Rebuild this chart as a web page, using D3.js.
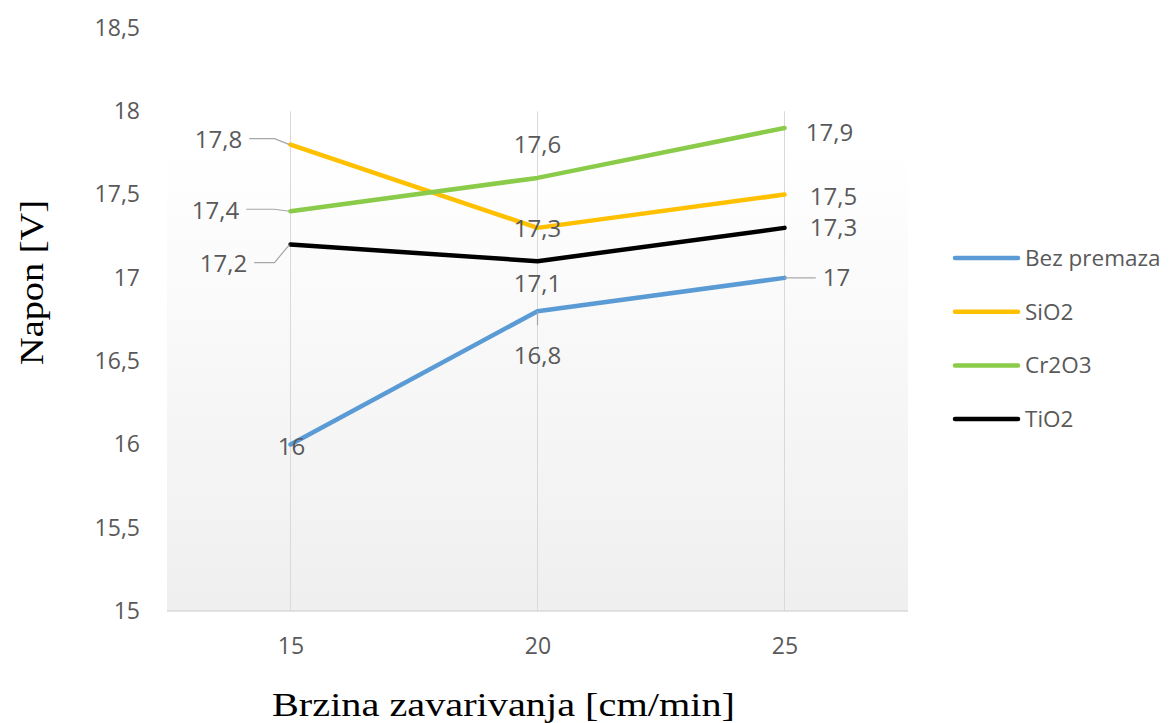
<!DOCTYPE html>
<html>
<head>
<meta charset="utf-8">
<script src="https://cdn.jsdelivr.net/npm/d3@7"></script>
<style>
  body { margin: 0; background: #fff; }
  svg { display: block; }
</style>
</head>
<body>
<script>
// Chart data
var speeds = [15, 20, 25];
var seriesNames = ["Bez premaza", "SiO2", "Cr2O3", "TiO2"];
var bezPremaza = [16, 16.8, 17];
var sio2 = [17.8, 17.3, 17.5];
var cr2o3 = [17.4, 17.6, 17.9];
var tio2 = [17.2, 17.1, 17.3];
var yTicks = [15, 15.5, 16, 16.5, 17, 17.5, 18, 18.5];
var colors = ["#5b9bd5", "#ffc000", "#8bcb4a", "#000000"];

var allValues = [bezPremaza, sio2, cr2o3, tio2];

var width = 1174, height = 723;
var svg = d3.select("body").append("svg")
    .attr("width", width)
    .attr("height", height);

var plotLeft = 167, plotRight = 908, plotTop = 148, plotBottom = 611;
var sans = "'Open Sans', sans-serif";
var serif = "'Liberation Serif', 'Times New Roman', serif";

var x = d3.scalePoint()
    .domain(speeds)
    .range([plotLeft, plotRight])
    .padding(0.5);

var y = d3.scaleLinear()
    .domain([15, 18.5])
    .range([plotBottom, 28]);

var fmt = function(v) { return String(v).replace(".", ","); };

// plot area gradient
var defs = svg.append("defs");
var grad = defs.append("linearGradient")
    .attr("id", "bg").attr("x1", 0).attr("y1", 0).attr("x2", 0).attr("y2", 1);
grad.append("stop").attr("offset", "0%").attr("stop-color", "#ffffff");
grad.append("stop").attr("offset", "100%").attr("stop-color", "#efefef");

svg.append("rect")
    .attr("x", plotLeft).attr("y", plotTop)
    .attr("width", plotRight - plotLeft).attr("height", plotBottom - plotTop)
    .attr("fill", "url(#bg)");

// vertical gridlines at categories
svg.append("g").selectAll("line")
    .data(speeds)
    .enter().append("line")
    .attr("x1", d => x(d)).attr("x2", d => x(d))
    .attr("y1", y(18)).attr("y2", plotBottom)
    .attr("stroke", "#d9d9d9").attr("stroke-width", 1);

// bottom axis line
svg.append("line")
    .attr("x1", plotLeft).attr("x2", plotRight)
    .attr("y1", plotBottom).attr("y2", plotBottom)
    .attr("stroke", "#d9d9d9").attr("stroke-width", 1.5);

// y axis tick labels
var yAxis = d3.axisLeft(y).tickValues(yTicks).tickFormat(fmt).tickSize(0).tickPadding(0);
var yg = svg.append("g").attr("transform", "translate(140,0)").call(yAxis);
yg.select(".domain").remove();
yg.selectAll("text")
    .attr("fill", "#595959")
    .style("font-family", sans)
    .style("font-size", "23px");

// x axis tick labels
var xAxis = d3.axisBottom(x).tickSize(0).tickPadding(0);
var xg = svg.append("g").attr("transform", "translate(0," + (plotBottom + 27) + ")").call(xAxis);
xg.select(".domain").remove();
xg.selectAll("text")
    .attr("fill", "#595959")
    .style("font-family", sans)
    .style("font-size", "23px");

// axis titles
svg.append("text")
    .attr("x", 272).attr("y", 716)
    .attr("textLength", 463)
    .attr("lengthAdjust", "spacingAndGlyphs")
    .style("font-family", serif)
    .style("font-size", "34px")
    .attr("fill", "#000")
    .text("Brzina zavarivanja [cm/min]");

svg.append("text")
    .attr("transform", "translate(43,365) rotate(-90)")
    .attr("textLength", 165)
    .attr("lengthAdjust", "spacingAndGlyphs")
    .style("font-family", serif)
    .style("font-size", "34px")
    .attr("fill", "#000")
    .text("Napon [V]");

// lines
var line = d3.line()
    .x((d, i) => x(speeds[i]))
    .y(d => y(d));

svg.append("g").selectAll("path")
    .data(allValues)
    .enter().append("path")
    .attr("d", d => line(d))
    .attr("fill", "none")
    .attr("stroke", (d, i) => colors[i])
    .attr("stroke-width", 4.5)
    .attr("stroke-linejoin", "round")
    .attr("stroke-linecap", "round");

// data labels: [series, category, dx, dy, leader]
var labelPlace = [
    [0, 0, 1, 2, null],
    [0, 1, 0, 44, "v"],
    [0, 2, 52, 0, "h"],
    [1, 0, -72, -5, "l"],
    [1, 1, 0, 1, null],
    [1, 2, 49, 2, null],
    [2, 0, -75, -1, "l"],
    [2, 1, 0, -33, null],
    [2, 2, 45, 5, null],
    [3, 0, -67, 19, "l"],
    [3, 1, 0, 22, null],
    [3, 2, 49, 0, null]
];

var leaderG = svg.append("g");
var labelG = svg.append("g");
labelPlace.forEach(function(p) {
    var s = p[0], c = p[1];
    var v = allValues[s][c];
    var px = x(speeds[c]), py = y(v);
    var lx = px + p[2], ly = py + p[3];
    var t = labelG.append("text")
        .attr("x", lx).attr("y", ly)
        .attr("dy", "0.35em")
        .attr("text-anchor", "middle")
        .attr("fill", "#595959")
        .style("font-family", sans)
        .style("font-size", "24px")
        .text(fmt(v));
    var w = t.node().getComputedTextLength();
    if (p[4] === "l") {
        var sy = ly - 1;
        leaderG.append("path")
            .attr("d", "M" + (lx + w / 2 + 7) + "," + sy + " L" + (px - 16) + "," + sy + " L" + (px - 1) + "," + py)
            .attr("fill", "none").attr("stroke", "#a6a6a6").attr("stroke-width", 1.2);
    } else if (p[4] === "h") {
        leaderG.append("line")
            .attr("x1", px).attr("x2", lx - w / 2 - 7).attr("y1", py).attr("y2", py)
            .attr("stroke", "#a6a6a6").attr("stroke-width", 1.2);
    } else if (p[4] === "v") {
        leaderG.append("line")
            .attr("x1", px).attr("x2", px).attr("y1", py).attr("y2", py + 14)
            .attr("stroke", "#a6a6a6").attr("stroke-width", 1.2);
    }
});

// legend
var legend = svg.append("g").attr("transform", "translate(955,258)");
var item = legend.selectAll("g")
    .data(seriesNames)
    .enter().append("g")
    .attr("transform", (d, i) => "translate(0," + (i * 53.7) + ")");
item.append("line")
    .attr("x1", 0).attr("x2", 63).attr("y1", 0).attr("y2", 0)
    .attr("stroke", (d, i) => colors[i])
    .attr("stroke-width", 4.5)
    .attr("stroke-linecap", "round");
item.append("text")
    .attr("x", 70).attr("y", 0).attr("dy", "0.35em")
    .attr("fill", "#595959")
    .style("font-family", sans)
    .style("font-size", "22.5px")
    .text(d => d);
</script>
</body>
</html>
